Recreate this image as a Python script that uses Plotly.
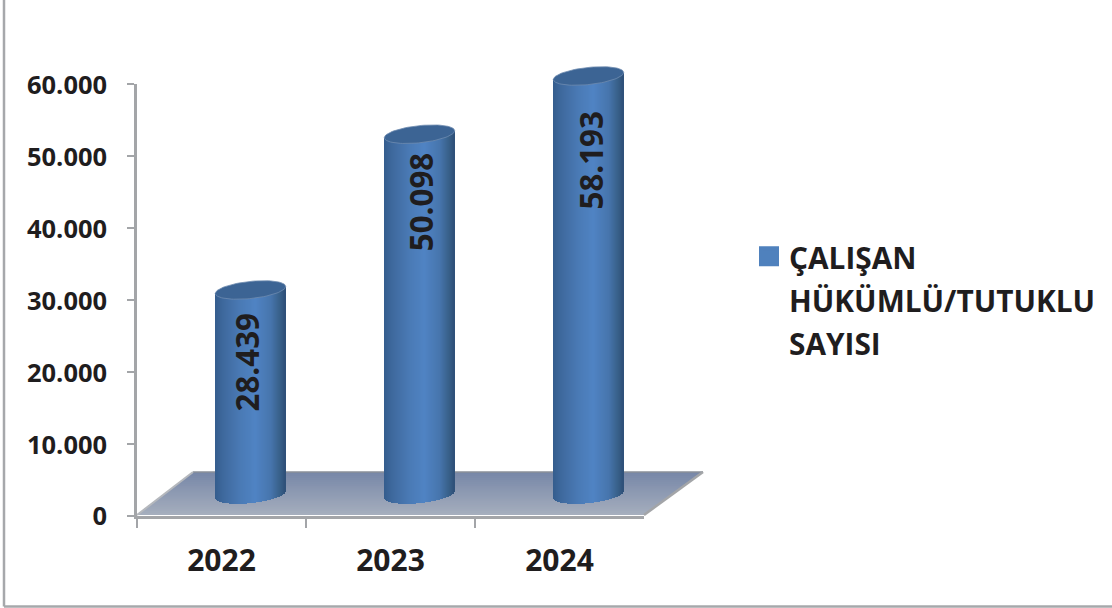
import numpy as np
import plotly.graph_objects as go

years = ["2022", "2023", "2024"]
workers = [28439, 50098, 58193]
series_name = "&#160;<br>&#160;<br>ÇALIŞAN<br>HÜKÜMLÜ/TUTUKLU<br>SAYISI"
label_drop_px = [72.5, 68, 84.5]
label_shift_px = [-3.5, 1.5, 1.5]

W, H = 1112, 608
AX_L, AX_R, AX_T, AX_B = 137, 644, 84, 515.5
DX, DY = 29, 21
YMAX = 60000
FONT = "Open Sans"
INK = "#1f1d1e"
AXIS = "#a3a5a8"

xs = list(range(len(years)))
ppx = 3 / (AX_R - AX_L)          # x units per pixel
ppy = YMAX / (AX_B - AX_T)       # y units per pixel
x2_left = -0.5 - (AX_L + DX) * ppx
y2_low = -(H - (AX_B - DY)) * ppy


def px(x):
    return x / W


def py(y):
    return 1 - y / H


def mix(stops, t):
    pos = [s[0] for s in stops]
    rgb = [[int(s[1][i:i + 2], 16) for s in stops] for i in (1, 3, 5)]
    return "rgb(%d,%d,%d)" % tuple(np.interp(t, pos, c) for c in rgb)


fig = go.Figure()

# legend entry + category axis
fig.add_trace(go.Scatter(
    x=years, y=[None] * len(years), mode="markers", name=f'<span style="font-size:29.8px">{series_name}</span>',
    marker=dict(symbol="square", size=16, color="#4f81bd", line=dict(color="#4f81bd", width=4)),
    xaxis="x", yaxis="y", showlegend=True, hoverinfo="skip"))

# cylinder bodies as vertical strips of bars
N = 71
half = 35.2 * ppx
tilt = 3.5 * ppy
b = 8.6 * ppy
shade = [(0, "#355d8e"), (0.12, "#3f6a9e"), (0.35, "#4a7ab5"), (0.58, "#5084c4"),
         (0.8, "#4775ad"), (0.93, "#386089"), (1, "#2f5079")]
for i in range(N):
    t0, t1 = i / N, (i + 1) / N
    tc = (t0 + t1) / 2
    u = 2 * tc - 1
    base = tilt * u - b * np.sqrt(max(0, 1 - u * u))
    fig.add_trace(go.Bar(
        x=xs, y=[v + tilt * u - base for v in workers], base=base,
        width=(t1 - t0) * 2 * half * (1.1 if i < N - 1 else 1.0), offset=(2 * t0 - 1) * half,
        marker=dict(color=mix(shade, tc), line=dict(width=0)),
        xaxis="x2", yaxis="y2", showlegend=False, hoverinfo="skip"))

# cylinder caps
th = np.linspace(0, 2 * np.pi, 80)
for x0, v in zip(xs, workers):
    fig.add_trace(go.Scatter(
        x=x0 + half * np.cos(th), y=v + tilt * np.cos(th) + b * np.sin(th),
        mode="lines", fill="toself", fillcolor="#3c6494",
        line=dict(color="#6f8cb0", width=0.8), xaxis="x2", yaxis="y2",
        showlegend=False, hoverinfo="skip"))

# floor, painted back to front
shapes = []
FL = [(137, 515), (644, 515), (703, 472), (193, 472)]
steps = 22
floor_shade = [(0, "#7888a8"), (1, "#a5aebd")]
xl = lambda y: 193 + (137 - 193) * (y - 472) / 43
xr = lambda y: 703 + (644 - 703) * (y - 472) / 43
for i in range(steps):
    yt, yb = 472 + 43 * i / steps, 515
    path = "M{:.4f},{:.4f} L{:.4f},{:.4f} L{:.4f},{:.4f} L{:.4f},{:.4f} Z".format(
        px(xl(yt)), py(yt), px(xr(yt)), py(yt), px(xr(yb)), py(yb), px(xl(yb)), py(yb))
    shapes.append(dict(type="path", path=path, xref="paper", yref="paper", layer="below",
                       fillcolor=mix(floor_shade, i / (steps - 1)), line=dict(width=0)))
for (p, q, w, col) in [(FL[3], FL[2], 1.5, "#8a8f99"), (FL[2], FL[1], 2.5, "#a3a5a8"), (FL[3], FL[0], 2, "#b5b8bd")]:
    shapes.append(dict(type="line", x0=px(p[0]), y0=py(p[1]), x1=px(q[0]), y1=py(q[1]),
                       xref="paper", yref="paper", layer="below", line=dict(color=col, width=w)))
# outer frame
shapes.append(dict(type="line", x0=px(4), y0=1, x1=px(4), y1=py(606.5), xref="paper", yref="paper",
                   line=dict(color="#a6a8ab", width=2.5)))
shapes.append(dict(type="line", x0=px(4), y0=py(606.5), x1=1, y1=py(606.5), xref="paper", yref="paper",
                   line=dict(color="#a6a8ab", width=2.5)))

annotations = [
    dict(x=x0 + s * ppx, y=v, yshift=-d, xref="x2", yref="y2", text=f"{v:,}".replace(",", "."),
         textangle=-90, showarrow=False,
         font=dict(family=FONT, size=31.3, color=INK, weight="bold"))
    for x0, v, d, s in zip(xs, workers, label_drop_px, label_shift_px)
]

fig.update_layout(
    width=W, height=H, margin=dict(l=0, r=0, t=0, b=0, autoexpand=False),
    paper_bgcolor="white", plot_bgcolor="rgba(0,0,0,0)",
    separators=",.", barmode="overlay", bargap=0, hovermode=False,
    shapes=shapes, annotations=annotations,
    font=dict(family=FONT, color=INK),
    xaxis=dict(domain=[px(AX_L), px(AX_R)], type="category", categoryorder="array", categoryarray=years,
               range=[-0.5, 2.5], tickson="boundaries", ticks="outside", ticklen=10, tickwidth=2, tickcolor=AXIS,
               showline=True, linecolor=AXIS, linewidth=2.5, showgrid=False, zeroline=False, anchor="y",
               ticklabelstandoff=17, tickfont=dict(family=FONT, size=30, color=INK, weight="bold")),
    yaxis=dict(domain=[py(AX_B), py(AX_T)], range=[0, YMAX], dtick=10000, tickformat=",.0f",
               ticks="outside", ticklen=7, tickwidth=2, tickcolor=AXIS, showline=True, linecolor=AXIS,
               linewidth=2.5, showgrid=False, zeroline=False, anchor="x", ticklabelstandoff=15, ticklabelshift=1,
               tickfont=dict(family=FONT, size=25.5, color=INK, weight="bold")),
    xaxis2=dict(domain=[0, 1], range=[x2_left, x2_left + W * ppx], visible=False, anchor="y2"),
    yaxis2=dict(domain=[0, 1], range=[y2_low, y2_low + H * ppy], visible=False, anchor="x2"),
    legend=dict(x=px(749), y=py(142.5), xanchor="left", yanchor="top", bgcolor="rgba(0,0,0,0)",
                font=dict(family=FONT, size=33, color=INK, weight="bold"), itemwidth=30,
                itemclick=False, itemdoubleclick=False),
)

fig.write_html("out.html", config={"displayModeBar": False}, post_script="document.body.style.margin='0';")
